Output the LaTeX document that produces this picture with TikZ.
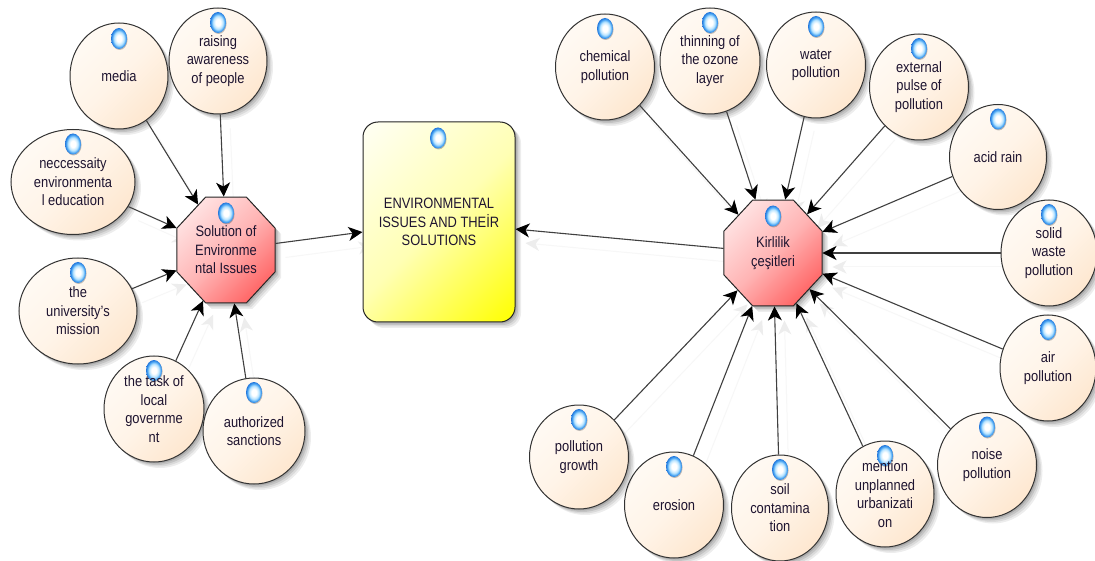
\documentclass[tikz,border=0pt]{standalone}
\usepackage{fontspec}
\setmainfont[FakeStretch=0.86]{Liberation Sans}
\usetikzlibrary{shapes.geometric,arrows.meta,shadows,backgrounds}
\definecolor{txt}{HTML}{1E1430}
\definecolor{creamA}{HTML}{FFFCF8}
\definecolor{creamB}{HTML}{FFF4E8}
\definecolor{creamC}{HTML}{FDE2C6}
\definecolor{redA}{HTML}{FFF2F2}
\definecolor{redB}{HTML}{FFB4B4}
\definecolor{redC}{HTML}{FF4A4A}
\definecolor{yelA}{HTML}{FFFFF4}
\definecolor{yelB}{HTML}{FFFFB4}
\definecolor{yelC}{HTML}{FFFF00}
\definecolor{dotA}{HTML}{FFFFFF}
\definecolor{dotB}{HTML}{B4E2FF}
\definecolor{dotC}{HTML}{4AA6F4}
\definecolor{dotD}{HTML}{2478DC}
\pgfdeclareverticalshading{creamshade}{100bp}{color(0bp)=(creamC); color(15bp)=(creamC); color(50bp)=(creamB); color(85bp)=(creamA); color(100bp)=(creamA)}
\pgfdeclareverticalshading{redshade}{100bp}{color(0bp)=(redC); color(15bp)=(redC); color(50bp)=(redB); color(85bp)=(redA); color(100bp)=(redA)}
\pgfdeclareverticalshading{yelshade}{100bp}{color(0bp)=(yelC); color(15bp)=(yelC); color(50bp)=(yelB); color(85bp)=(yelA); color(100bp)=(yelA)}
\pgfdeclareradialshading{dotshade}{\pgfpoint{0bp}{0bp}}{
  color(0bp)=(dotA); color(8bp)=(dotA); color(16bp)=(dotB);
  color(21bp)=(dotC); color(25bp)=(dotD); color(50bp)=(dotD)}
\tikzset{
  softshadow/.style={
    drop shadow={shadow xshift=6pt,shadow yshift=-6pt,opacity=.07,fill=black},
    drop shadow={shadow xshift=4.5pt,shadow yshift=-4.5pt,opacity=.08,fill=black},
    drop shadow={shadow xshift=3pt,shadow yshift=-3pt,opacity=.1,fill=black},
    drop shadow={shadow xshift=1.5pt,shadow yshift=-1.5pt,opacity=.12,fill=black}},
  bubble/.style={ellipse,draw=black!80,line width=1pt,inner sep=0pt,shading=creamshade,shading angle=45,softshadow},
  btext/.style={font=\fontsize{15}{18.5}\selectfont,text=txt,align=center,inner sep=0pt},
  bluedot/.style={ellipse,shading=dotshade,inner sep=0pt,minimum width=16pt,minimum height=21pt,drop shadow={shadow xshift=.6pt,shadow yshift=-1pt,opacity=.35,fill=black!70}},
  octa/.style={regular polygon,regular polygon sides=8,inner sep=0pt,minimum size=114.7pt,xscale=.925,transform shape,draw=black!85,line width=1pt,shading=redshade,shading angle=45,softshadow},
  noteb/.style={rectangle,rounded corners=15pt,draw=black!85,line width=1pt,inner sep=0pt,minimum width=152pt,minimum height=200pt,shading=yelshade,shading angle=45,softshadow},
  link/.style={-{Stealth[length=14pt,width=14pt,inset=4pt,black]},line width=1.1pt,draw=black!75},
  ghost/.style={-{Stealth[length=14pt,width=13pt,inset=4pt,black!7]},line width=1pt,draw=black!3,transform canvas={xshift=10pt,yshift=-14pt}}
}
\newcommand{\bub}[7]{%
  \coordinate (#1c) at (#2,#3);
  \node[bubble,minimum width=#4pt,minimum height=#5pt] (#1) at (#1c) {};
  \node[bluedot] (#1dot) at ([yshift=-#6pt]#1.north) {};
  \node[btext] (#1txt) at (#1c) {#7};
}
\begin{document}
\begin{tikzpicture}[x=1pt,y=-1pt]
\useasboundingbox (0,0) rectangle (1095,561);
\bub{media}{119}{76}{98}{106}{16}{media}
\bub{raising}{218}{61}{98}{106}{15}{raising\\awareness\\of people}
\bub{necc}{73}{182}{124}{105}{15}{neccessaity\\environmenta\\l education}
\bub{univ}{78}{311}{118}{106}{15}{the\\university's\\mission}
\bub{task}{154}{409}{100}{106}{15}{the task of\\local\\governme\\nt}
\bub{auth}{254}{431}{102}{106}{15}{authorized\\sanctions}
\bub{chem}{605}{67}{99}{106}{15}{chemical\\pollution}
\bub{thin}{710}{61}{100}{106}{15}{thinning of\\the ozone\\layer}
\bub{water}{816}{65}{99}{106}{15}{water\\pollution}
\bub{ext}{919}{87}{99}{106}{15}{external\\pulse of\\pollution}
\bub{acid}{998}{157}{97}{105}{15}{acid rain}
\bub{solid}{1049}{253}{96}{106}{15}{solid\\waste\\pollution}
\bub{air}{1048}{368}{96}{106}{15}{air\\pollution}
\bub{noise}{987}{465}{99}{105}{15}{noise\\pollution}
\bub{ment}{885}{494}{98}{106}{15}{mention\\unplanned\\urbanizati\\on}
\bub{soil}{780}{508}{97}{106}{15}{soil\\contamina\\tion}
\bub{eros}{674}{505}{99}{106}{15}{erosion}
\bub{grow}{579}{457}{99}{104}{15}{pollution\\growth}

\coordinate (solc) at (226,250);
\node[octa] (sol) at (solc) {};
\node[bluedot] (soldot) at (226,213) {};
\node[btext] (soltxt) at (solc) {Solution of\\Environme\\ntal Issues};

\coordinate (kirc) at (773,253);
\node[octa] (kir) at (kirc) {};
\node[bluedot] (kirdot) at (773,216) {};
\node[btext] (kirtxt) at (kirc) {Kirlilik\\çeşitleri};

\coordinate (envc) at (439,222);
\node[noteb] (env) at (envc) {};
\node[bluedot] (envdot) at (438,138) {};
\node[btext] (envtxt) at (439,222) {ENVIRONMENTAL\\ISSUES AND THEİR\\SOLUTIONS};

\begin{pgfonlayer}{background}
\fill[white] (0,0) rectangle (1095,561);
\foreach \a in {media,raising,necc,univ,task,auth}
  \draw[ghost] (\a) -- (sol);
\foreach \a in {chem,thin,water,ext,acid,solid,air,noise,ment,soil,eros,grow}
  \draw[ghost] (\a) -- (kir);
\draw[ghost] (sol) -- (env);
\draw[ghost] (kir) -- (env);
\end{pgfonlayer}

\foreach \a in {media,raising,necc,univ,task,auth}
  \draw[link] (\a) -- (sol);
\foreach \a in {chem,thin,water,ext,acid,solid,air,noise,ment,soil,eros,grow}
  \draw[link] (\a) -- (kir);
\draw[link] (sol) -- (env);
\draw[link] (kir) -- (env);
\end{tikzpicture}
\end{document}
